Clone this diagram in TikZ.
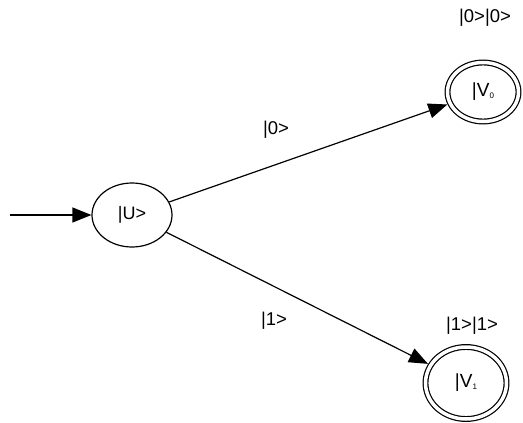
\documentclass[tikz,border=0pt]{standalone}
\usepackage{fontspec}
\setmainfont{Liberation Sans}
\usetikzlibrary{shapes.geometric,arrows.meta}
\begin{document}
\begin{tikzpicture}[x=1pt,y=-1pt,
  state/.style={draw,ellipse,line width=1.2pt,minimum width=80pt,minimum height=64pt,inner sep=0pt,font=\fontsize{18}{20}\selectfont},
  final/.style={draw,ellipse,line width=1.2pt,double,double distance=3.5pt,inner sep=0pt,font=\fontsize{19}{21}\selectfont},
  lbl/.style={font=\fontsize{18.5}{20}\selectfont,inner sep=0pt},
  edge/.style={line width=1.2pt,-{Triangle[length=19pt,width=15pt]}}]
\useasboundingbox (0,0) rectangle (523,423);
\node[state] (u) at (132,215) {|U>};
\node[final,minimum width=71pt,minimum height=59pt] (v0) at (483,92) {|V\raisebox{-2pt}{\fontsize{8}{9}\selectfont 0}};
\node[final,minimum width=81pt,minimum height=72pt] (v1) at (466,383) {|V\raisebox{-2pt}{\fontsize{8}{9}\selectfont 1}};
\coordinate (s) at (10,215);
\node[lbl] (l00) at (485,18) {|0>|0>};
\node[lbl] (l11) at (472,326) {|1>|1>};
\node[lbl] (l0) at (276,130) {|0>};
\node[lbl] (l1) at (274,321) {|1>};
\draw[edge] (s) -- (u);
\draw[edge,shorten >=2.5pt] (u) -- (v0);
\draw[edge,shorten >=2.5pt] (u) -- (v1);
\end{tikzpicture}
\end{document}
